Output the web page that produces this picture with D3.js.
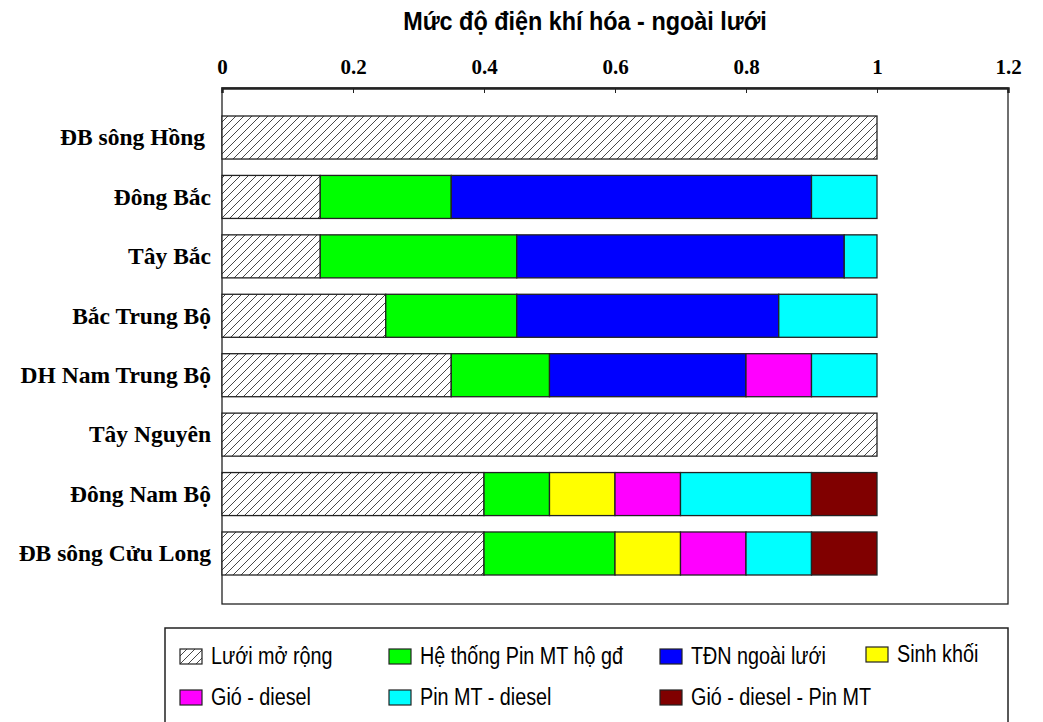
<!DOCTYPE html>
<html>
<head>
<meta charset="utf-8">
<script src="https://cdn.jsdelivr.net/npm/d3@7"></script>
<style>
  html, body { margin: 0; padding: 0; background: #fff; }
  svg { display: block; }
</style>
</head>
<body>
<svg id="chart" width="1043" height="722"></svg>
<script>
// Regions (top to bottom)
const regions = ["ĐB sông Hồng", "Đông Bắc", "Tây Bắc", "Bắc Trung Bộ", "DH Nam Trung Bộ", "Tây Nguyên", "Đông Nam Bộ", "ĐB sông Cửu Long"];

// Share of each electrification option per region
const luoiMoRong   = [1.00, 0.15, 0.15, 0.25, 0.35, 1.00, 0.40, 0.40];
const pinMTHoGd    = [0,    0.20, 0.30, 0.20, 0.15, 0,    0.10, 0.20];
const tdnNgoaiLuoi = [0,    0.55, 0.50, 0.40, 0.30, 0,    0,    0   ];
const sinhKhoi     = [0,    0,    0,    0,    0,    0,    0.10, 0.10];
const gioDiesel    = [0,    0,    0,    0,    0.10, 0,    0.10, 0.10];
const pinMTDiesel  = [0,    0.10, 0.05, 0.15, 0.10, 0,    0.20, 0.10];
const gioDieselPin = [0,    0,    0,    0,    0,    0,    0.10, 0.10];

const seriesNames = ["Lưới mở rộng", "Hệ thống Pin MT hộ gđ", "TĐN ngoài lưới", "Sinh khối", "Gió - diesel", "Pin MT - diesel", "Gió - diesel - Pin MT"];
const seriesValues = [luoiMoRong, pinMTHoGd, tdnNgoaiLuoi, sinhKhoi, gioDiesel, pinMTDiesel, gioDieselPin];
const seriesColors = ["url(#hatch)", "#00ff00", "#0000ff", "#ffff00", "#ff00ff", "#00ffff", "#800000"];

const xTicks = [0, 0.2, 0.4, 0.6, 0.8, 1, 1.2];
const titleText = "Mức độ điện khí hóa - ngoài lưới";

const sansFont = "'Liberation Sans', Arial, sans-serif";
const serifFont = "'Liberation Serif', 'Times New Roman', serif";

const svg = d3.select("#chart");

// Diagonal hatch fill
const defs = svg.append("defs");
const pat = defs.append("pattern")
  .attr("id", "hatch")
  .attr("patternUnits", "userSpaceOnUse")
  .attr("width", 8).attr("height", 8);
pat.append("rect").attr("width", 8).attr("height", 8).attr("fill", "#fff");
pat.append("path")
  .attr("d", "M-2,2 l4,-4 M0,8 l8,-8 M6,10 l4,-4")
  .attr("stroke", "#333").attr("stroke-width", 0.9);

const plot = { left: 222, top: 88, right: 1008, bottom: 604 };

const x = d3.scaleLinear().domain([0, 1.2]).range([plot.left, plot.right]);
const y = d3.scaleBand().domain(regions)
  .range([plot.top + 28, plot.bottom - 29])
  .paddingInner(0.276).paddingOuter(0);

// Title (condensed bold sans)
svg.append("text")
  .attr("transform", "translate(585,30) scale(0.9,1)")
  .attr("text-anchor", "middle")
  .attr("font-family", sansFont)
  .attr("font-weight", "bold").attr("font-size", 26)
  .text(titleText);

// Plot frame
svg.append("rect")
  .attr("x", plot.left).attr("y", plot.top)
  .attr("width", plot.right - plot.left).attr("height", plot.bottom - plot.top)
  .attr("fill", "#fff").attr("stroke", "#222").attr("stroke-width", 1.3);

// Top axis with inward ticks
const axis = d3.axisTop(x).tickValues(xTicks)
  .tickFormat(d => d3.format("")(d))
  .tickSize(-5).tickPadding(14);
const gAxis = svg.append("g").attr("transform", `translate(0,${plot.top})`).call(axis);
gAxis.select(".domain").attr("stroke", "#222").attr("stroke-width", 2.5);
gAxis.selectAll(".tick line").attr("stroke", "#222");
gAxis.selectAll(".tick text")
  .attr("font-family", serifFont)
  .attr("font-weight", "bold").attr("font-size", 21).attr("fill", "#000");

// Stacked bars
const stackData = regions.map((r, i) => {
  const o = { region: r };
  seriesNames.forEach((s, k) => { o[s] = seriesValues[k][i]; });
  return o;
});
const stacked = d3.stack().keys(seriesNames)(stackData);

svg.append("g").selectAll("g")
  .data(stacked)
  .join("g")
  .attr("fill", (d, k) => seriesColors[k])
  .selectAll("rect")
  .data(d => d.filter(p => p[1] - p[0] > 0))
  .join("rect")
  .attr("x", p => x(p[0]))
  .attr("y", p => y(p.data.region))
  .attr("width", p => x(p[1]) - x(p[0]))
  .attr("height", y.bandwidth())
  .attr("stroke", "#222").attr("stroke-width", 1.3);

// Category labels
svg.append("g").selectAll("text")
  .data(regions)
  .join("text")
  .attr("x", r => r === regions[0] ? 205 : 211)
  .attr("y", r => y(r) + y.bandwidth() / 2)
  .attr("dy", "0.33em")
  .attr("text-anchor", "end")
  .attr("font-family", serifFont)
  .attr("font-weight", "bold").attr("font-size", 23.5)
  .text(r => r);

// Legend
const lg = svg.append("g");
lg.append("rect")
  .attr("x", 165).attr("y", 628).attr("width", 843).attr("height", 110)
  .attr("fill", "#fff").attr("stroke", "#222").attr("stroke-width", 1.5);

const legendPos = [
  [180, 656], [389, 656], [660, 656], [866, 654],
  [180, 697], [389, 697], [660, 697]
];
const items = lg.selectAll("g.item")
  .data(seriesNames)
  .join("g").attr("class", "item")
  .attr("transform", (d, k) => `translate(${legendPos[k][0]},${legendPos[k][1]})`);
items.append("rect")
  .attr("x", 0).attr("y", -7).attr("width", 22).attr("height", 15)
  .attr("fill", (d, k) => seriesColors[k])
  .attr("stroke", "#222").attr("stroke-width", 1.2);
items.append("text")
  .attr("transform", "translate(31,0) scale(0.86,1)")
  .attr("dy", "0.35em")
  .attr("font-family", sansFont)
  .attr("font-size", 23)
  .text(d => d);
</script>
</body>
</html>
